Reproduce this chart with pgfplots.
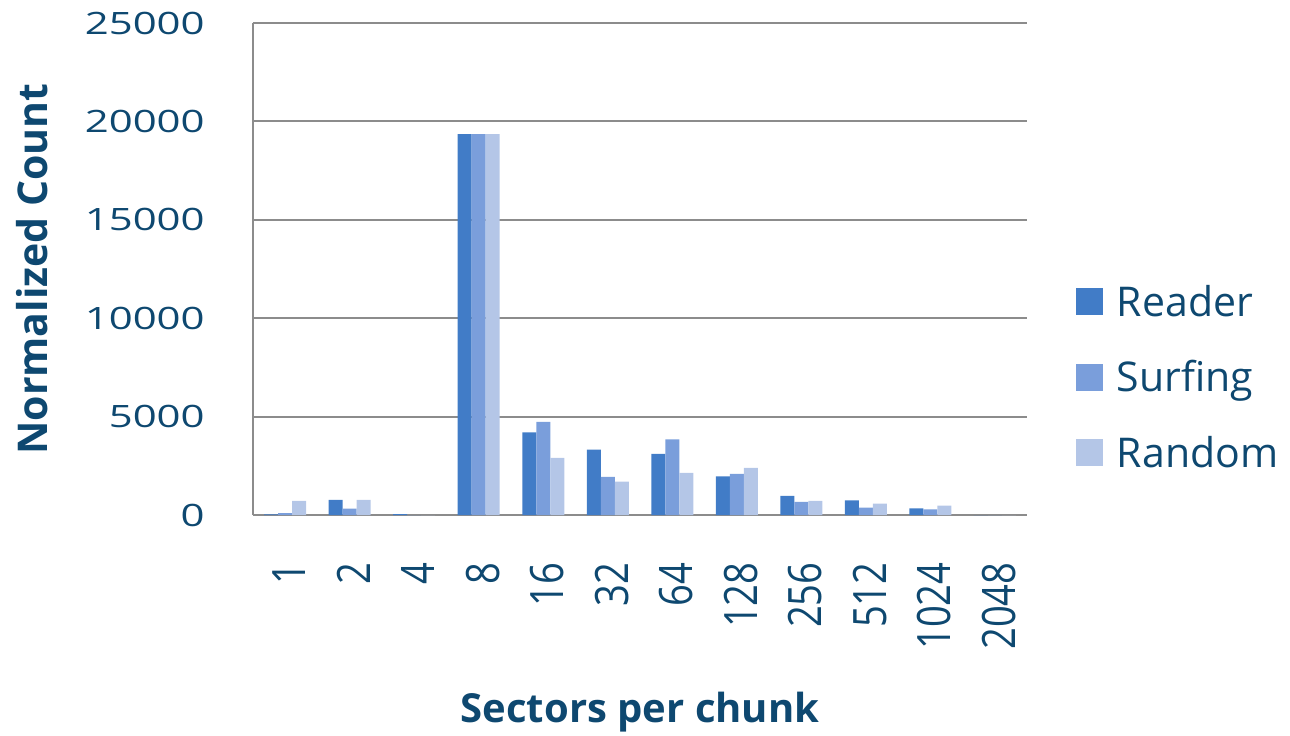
\documentclass[border=0pt]{standalone}
\usepackage{fontspec}
\setmainfont{Open Sans}
\newfontfamily\ytickfont[FakeStretch=1.36]{Open Sans}
\newfontfamily\xtickfont[FakeStretch=0.83]{Open Sans}
\usepackage{pgfplots}
\usepackage{pgfplotstable}
\pgfplotsset{compat=1.18}

\definecolor{reader}{RGB}{65,124,199}
\definecolor{surfing}{RGB}{122,158,219}
\definecolor{random}{RGB}{180,198,231}
\definecolor{ink}{RGB}{14,72,112}
\definecolor{rule}{RGB}{140,140,140}

% sectors per chunk: 1,2,4,...,2048 at positions 0..11
\pgfplotstableread{
idx reader surfing random
0   30     100     712
1   763    322     763
2   50     0       0
3   19350  19350   19350
4   4203   4729    2898
5   3322   1932    1695
6   3102   3847    2136
7   1966   2085    2390
8   966    661     712
9   746    373     576
10  339    288     475
11  0      0       0
}\chunks

\begin{document}
\begin{tikzpicture}
\useasboundingbox (-126.5pt,-110pt) rectangle (518.5pt,257.5pt);
\begin{axis}[
  scale only axis, width=387pt, height=246pt,
  ybar=0pt, bar width=7pt,
  xmin=-0.5, xmax=11.5, ymin=0, ymax=25000,
  scaled y ticks=false,
  xtick={0,...,11},
  xticklabels={1,2,4,8,16,32,64,128,256,512,1024,2048},
  ytick={0,5000,10000,15000,20000,25000},
  yticklabels={0,5000,10000,15000,20000,25000},
  major tick length=0pt,
  axis x line*=bottom, axis y line*=left,
  axis line style={rule, line width=1pt},
  ymajorgrids, grid style={rule, line width=1pt},
  tick label style={text=ink},
  yticklabel style={font=\ytickfont\fontsize{15.4}{18}\selectfont, anchor=east, inner sep=0pt, xshift=-24pt},
  xticklabel style={font=\xtickfont\fontsize{23}{27}\selectfont, yshift=-23.5pt, xshift=2pt, rotate=90, anchor=east, inner sep=0pt},
  xlabel={Sectors per chunk}, ylabel={Normalized Count},
  every axis x label/.style={at={(rel axis cs:0.5,0)}, yshift=-103.5pt, anchor=base,
    font=\bfseries\fontsize{20}{24}\selectfont, text=ink},
  every axis y label/.style={at={(rel axis cs:0,0.5)}, xshift=-102.5pt, rotate=90, anchor=base,
    font=\bfseries\fontsize{20.5}{24}\selectfont, text=ink},
  legend style={at={(rel axis cs:1.0633,0.2805)}, anchor=west, draw=none, fill=none,
    inner sep=0pt, outer sep=0pt, row sep=23.2pt, column sep=7pt,
    font=\fontsize{20.5}{24}\selectfont, text=ink,
    nodes={inner sep=0pt, text height=14.6pt, text depth=0pt}},
  legend cell align=left,
  legend image code/.code={\fill[#1] (0pt,-6.75pt) rectangle (13.5pt,6.75pt);},
]
\addplot[fill=reader, draw=none] table[x=idx, y=reader] {\chunks};
\addplot[fill=surfing, draw=none] table[x=idx, y=surfing] {\chunks};
\addplot[fill=random, draw=none] table[x=idx, y=random] {\chunks};
\legend{Reader, Surfing, Random}
\end{axis}
\end{tikzpicture}
\end{document}
